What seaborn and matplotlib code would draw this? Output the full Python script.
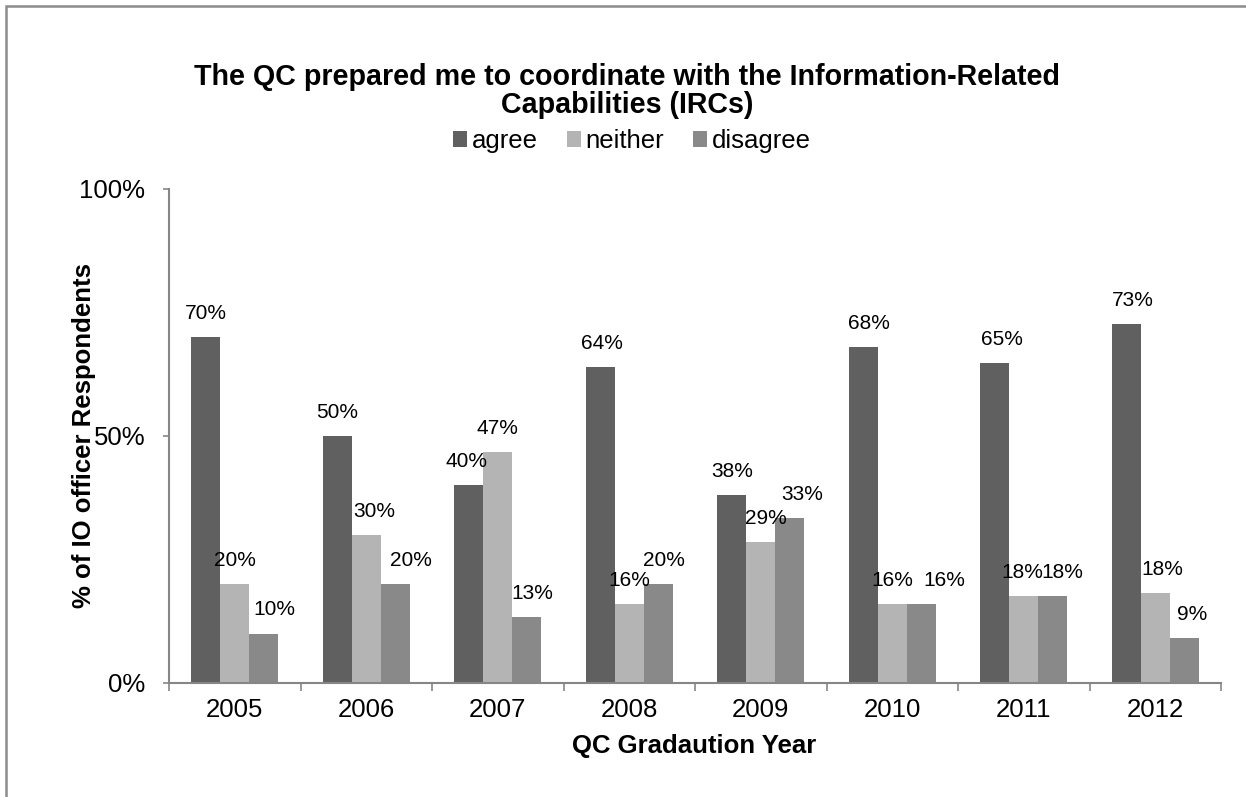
import matplotlib
matplotlib.use("Agg")
import matplotlib.pyplot as plt
from matplotlib.patches import Rectangle, Patch
import seaborn as sns
import pandas as pd

years = ["2005", "2006", "2007", "2008", "2009", "2010", "2011", "2012"]
agree = [70.0, 50.0, 40.0, 64.0, 38.1, 68.0, 64.7, 72.7]
neither = [20.0, 30.0, 46.7, 16.0, 28.6, 16.0, 17.6, 18.2]
disagree = [10.0, 20.0, 13.3, 20.0, 33.3, 16.0, 17.6, 9.1]
responses = ["agree", "neither", "disagree"]
colors = ["#606060", "#b4b4b4", "#898989"]

# horizontal nudges (in points) that keep neighbouring value labels apart
label_nudge = {
    "agree":    [0, 0, -2, 1, 0, 4, 5, 5],
    "neither":  [0, 6, 0, 0, 4, 0, -1, 5],
    "disagree": [8, 11, 4, 4, 9, 17, 7, 6],
}

rows = []
for resp, vals in zip(responses, [agree, neither, disagree]):
    for yr, v in zip(years, vals):
        rows.append({"year": yr, "response": resp, "pct": v})
df = pd.DataFrame(rows)

sns.set_theme(style="white")
plt.rcParams["font.family"] = ["Liberation Sans", "DejaVu Sans"]
plt.rcParams["text.color"] = "black"
plt.rcParams["xtick.color"] = "black"
plt.rcParams["ytick.color"] = "black"
plt.rcParams["axes.labelcolor"] = "black"

fig = plt.figure(figsize=(12.46, 7.97), dpi=100)
ax = fig.add_axes([169 / 1246, 1 - 683 / 797, (1221 - 169) / 1246, (683 - 189) / 797])

sns.barplot(data=df, x="year", y="pct", hue="response", hue_order=responses,
            order=years, palette=colors, width=0.66, gap=0, saturation=1,
            edgecolor="none", linewidth=0, legend=False, ax=ax)

# value labels above each bar
for container, resp in zip(ax.containers, responses):
    for bar, dx in zip(container, label_nudge[resp]):
        h = bar.get_height()
        ax.annotate(f"{h:.0f}%", (bar.get_x() + bar.get_width() / 2, h),
                    xytext=(dx, 17), textcoords="offset points",
                    ha="center", va="center", fontsize=15, color="black")

ax.set_ylim(0, 100)
ax.set_xlim(-0.5, len(years) - 0.5)
ax.set_yticks([0, 50, 100])
ax.set_yticklabels(["0%", "50%", "100%"], fontsize=18.5)
ax.set_xticks(range(len(years)))
ax.set_xticklabels(years, fontsize=18.5)
ax.tick_params(axis="x", length=0, pad=11)
ax.tick_params(axis="y", length=4, width=1.2, color="#868686", direction="out", pad=13, left=True)

# category separators on the x axis
ax.set_xticks([i - 0.5 for i in range(len(years) + 1)], minor=True)
ax.tick_params(axis="x", which="minor", length=6, width=1.2, color="#868686", direction="out", bottom=True)

for side in ["top", "right"]:
    ax.spines[side].set_visible(False)
for side in ["left", "bottom"]:
    ax.spines[side].set_color("#868686")
    ax.spines[side].set_linewidth(1.5)

ax.set_xlabel("QC Gradaution Year", fontsize=18.5, fontweight="bold")
ax.xaxis.set_label_coords(0.499, -0.128)
ax.xaxis.label.set_va("center")
ax.set_ylabel("% of IO officer Respondents", fontsize=18.5, fontweight="bold")
ax.yaxis.set_label_coords(-0.081, 0.502)
ax.yaxis.label.set_va("center")

fig.text(627 / 1246, 1 - 91 / 797,
         "The QC prepared me to coordinate with the Information-Related\nCapabilities (IRCs)",
         ha="center", va="center", fontsize=20.6, fontweight="bold", linespacing=1.04)

handles = [Patch(facecolor=c, edgecolor="none") for c in colors]
fig.legend(handles, responses, loc="center", bbox_to_anchor=(632 / 1246, 1 - 141 / 797),
           ncol=3, frameon=False, fontsize=18.5, handlelength=0.55, handleheight=0.55,
           handletextpad=0.2, columnspacing=1.1, borderpad=0)

# outer chart-area border
fig.patches.append(Rectangle((6 / 1246, -0.02), 1.05, 1 - 6 / 797 + 0.02,
                             transform=fig.transFigure, fill=False,
                             edgecolor="#8c8c8c", linewidth=1.8, clip_on=False))

fig.savefig("out.png", dpi=100, facecolor="white")
